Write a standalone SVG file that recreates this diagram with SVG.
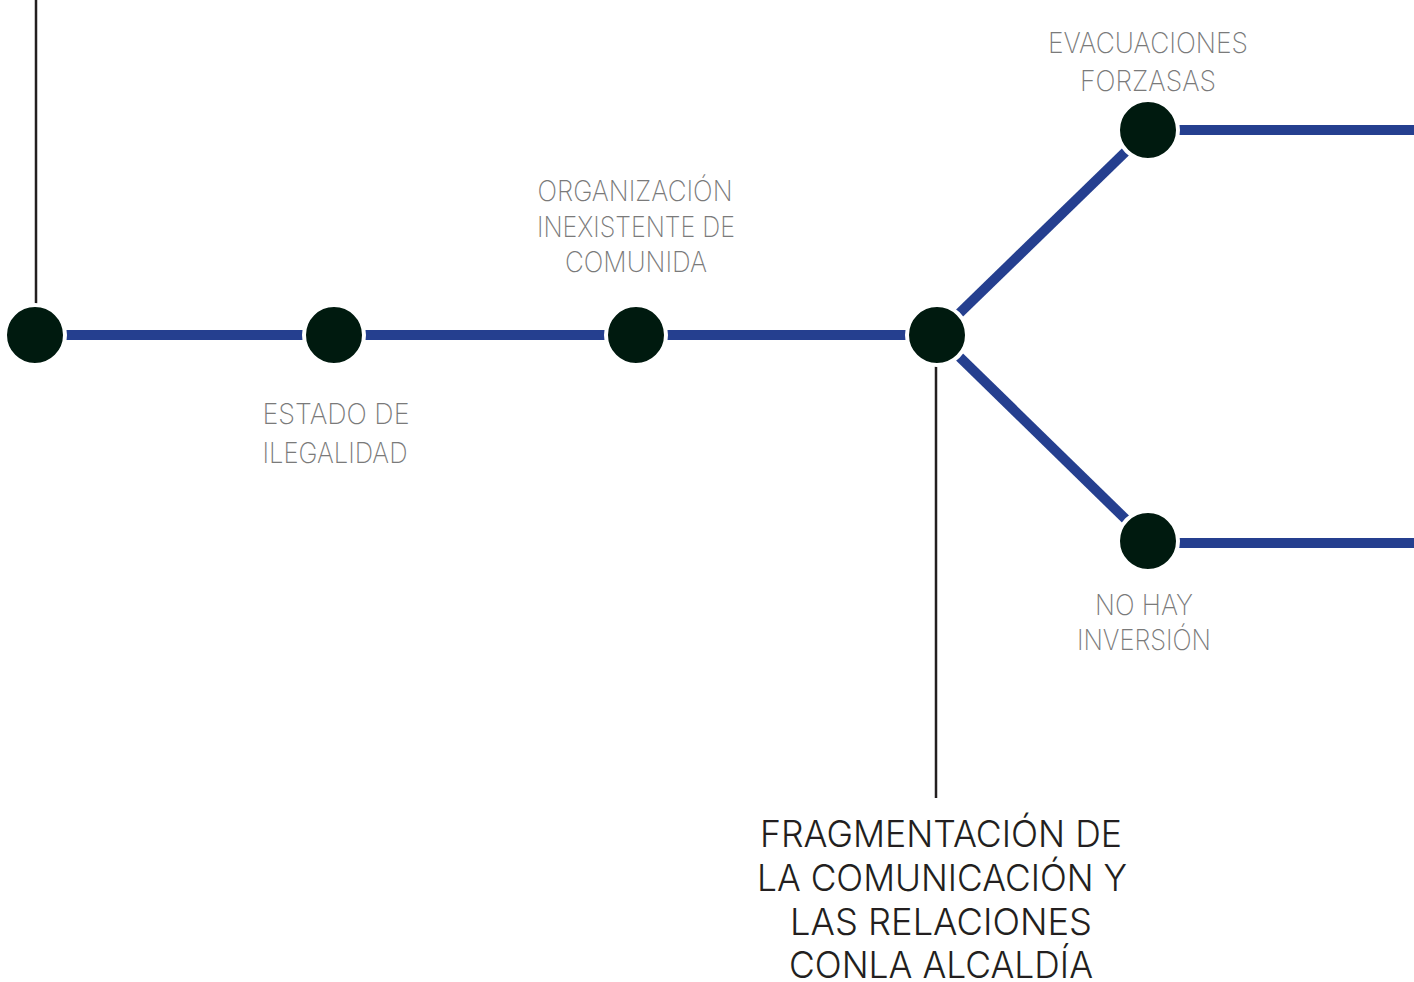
<svg xmlns="http://www.w3.org/2000/svg" width="1414" height="982" viewBox="0 0 1414 982">
<style>
.blue{stroke:#253f8f;stroke-width:10;fill:none}
.thin{stroke:#231f20;stroke-width:2.5;fill:none}
.node{fill:#001a0f;stroke:#ffffff;stroke-width:4}
.lbl{font-family:Inter,"Liberation Sans",sans-serif;font-weight:200;font-size:28px;fill:#7a7a7a;text-anchor:middle}
.big{font-family:Inter,"Liberation Sans",Arial,sans-serif;font-weight:300;font-size:37px;fill:#231f20;text-anchor:middle}
</style>
<rect width="1414" height="982" fill="#ffffff"/>
<g id="connectors">
<line class="thin" x1="36" y1="0" x2="36" y2="310"/>
<line class="thin" x1="936" y1="360" x2="936" y2="798"/>
<line class="blue" x1="62" y1="335" x2="306" y2="335"/>
<line class="blue" x1="362" y1="335" x2="608" y2="335"/>
<line class="blue" x1="664" y1="335" x2="909" y2="335"/>
<line class="blue" x1="937" y1="335" x2="1148" y2="130"/>
<line class="blue" x1="937" y1="335" x2="1148" y2="541"/>
<line class="blue" x1="1176" y1="130" x2="1414" y2="130"/>
<line class="blue" x1="1176" y1="543" x2="1414" y2="543"/>
</g>
<g id="n1"><circle class="node" cx="35" cy="335" r="30"/></g>
<g id="n2"><circle class="node" cx="334" cy="335" r="30"/>
<text class="lbl" x="336" y="424" textLength="147" lengthAdjust="spacingAndGlyphs">ESTADO DE</text>
<text class="lbl" x="335" y="463" textLength="145" lengthAdjust="spacingAndGlyphs">ILEGALIDAD</text></g>
<g id="n3"><circle class="node" cx="636" cy="335" r="30"/>
<text class="lbl" x="635" y="201" textLength="195" lengthAdjust="spacingAndGlyphs">ORGANIZACIÓN</text>
<text class="lbl" x="636" y="237" textLength="198" lengthAdjust="spacingAndGlyphs">INEXISTENTE DE</text>
<text class="lbl" x="636" y="272" textLength="142" lengthAdjust="spacingAndGlyphs">COMUNIDA</text></g>
<g id="n4"><circle class="node" cx="937" cy="335" r="30"/>
<text class="big" x="941" y="847" textLength="362" lengthAdjust="spacingAndGlyphs">FRAGMENTACIÓN DE</text>
<text class="big" x="942" y="891" textLength="370" lengthAdjust="spacingAndGlyphs">LA COMUNICACIÓN Y</text>
<text class="big" x="941" y="935" textLength="302" lengthAdjust="spacingAndGlyphs">LAS RELACIONES</text>
<text class="big" x="941" y="978" textLength="304" lengthAdjust="spacingAndGlyphs">CONLA ALCALDÍA</text></g>
<g id="n5"><circle class="node" cx="1148" cy="130" r="30"/>
<text class="lbl" x="1148" y="53" textLength="200" lengthAdjust="spacingAndGlyphs">EVACUACIONES</text>
<text class="lbl" x="1148" y="91" textLength="136" lengthAdjust="spacingAndGlyphs">FORZASAS</text></g>
<g id="n6"><circle class="node" cx="1148" cy="541" r="30"/>
<text class="lbl" x="1144" y="615" textLength="98" lengthAdjust="spacingAndGlyphs">NO HAY</text>
<text class="lbl" x="1144" y="650" textLength="134" lengthAdjust="spacingAndGlyphs">INVERSIÓN</text></g>
</svg>
